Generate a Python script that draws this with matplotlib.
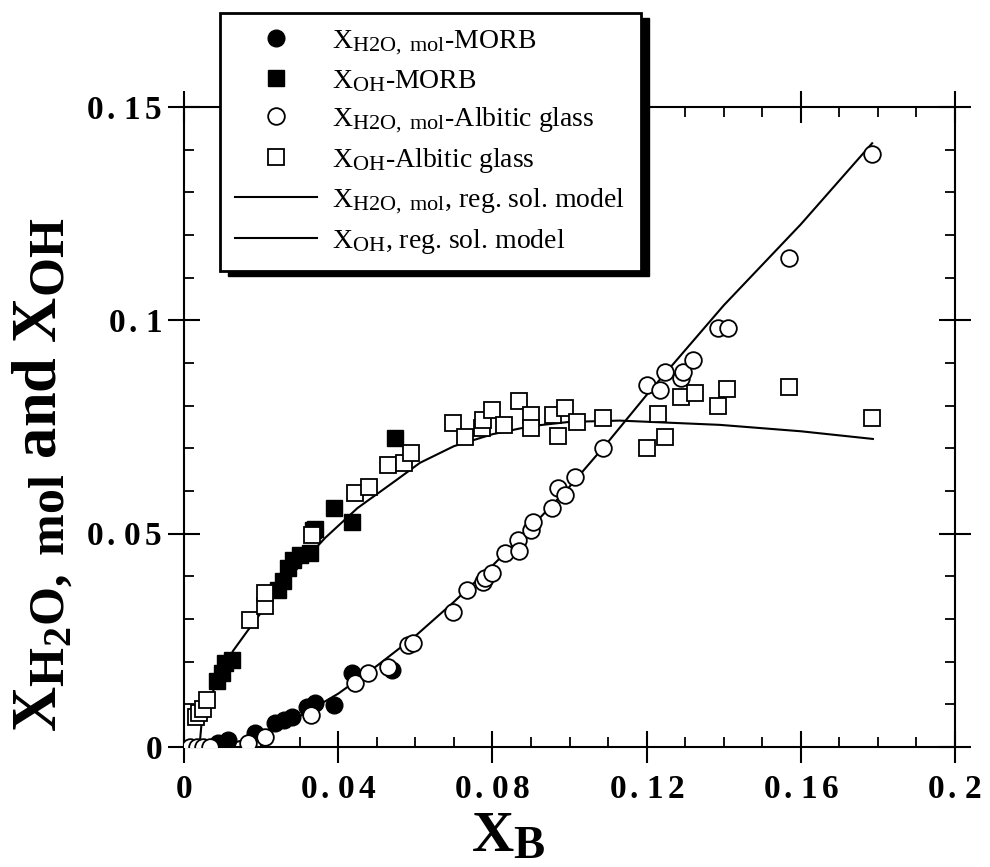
import matplotlib
matplotlib.use('Agg')
import matplotlib.pyplot as plt
from matplotlib.patches import Rectangle
from matplotlib.transforms import IdentityTransform
import matplotlib._mathtext as mathtext_internal

plt.rcParams['font.family'] = 'Liberation Serif'
plt.rcParams['mathtext.fontset'] = 'custom'
plt.rcParams['mathtext.rm'] = 'Liberation Serif'
plt.rcParams['mathtext.bf'] = 'Liberation Serif:bold'
plt.rcParams['mathtext.it'] = 'Liberation Serif:italic'
# subscripts in the original are a bit larger than matplotlib's default
mathtext_internal.SHRINK_FACTOR = 0.8

# X_H2O,mol - MORB (filled circles)
h2o_morb_x = [0.0088, 0.0099, 0.0114, 0.0184, 0.0236, 0.026, 0.028, 0.032, 0.034, 0.039, 0.0436, 0.054]
h2o_morb_y = [0.001, 0.0005, 0.0016, 0.0033, 0.0056, 0.0063, 0.007, 0.0094, 0.0103, 0.0098, 0.0173, 0.018]

# X_OH - MORB (filled squares)
oh_morb_x = [0.0086, 0.0099, 0.0106, 0.0125, 0.0244, 0.0257, 0.027, 0.0283, 0.030, 0.0327,
             0.0335, 0.034, 0.039, 0.0436, 0.0547]
oh_morb_y = [0.0155, 0.0173, 0.0197, 0.0204, 0.0368, 0.039, 0.042, 0.0438, 0.045, 0.0455,
             0.0509, 0.051, 0.056, 0.0527, 0.0724]

# X_H2O,mol - Albitic glass (open circles)
h2o_alb_x = [0.0016, 0.0034, 0.005, 0.0067, 0.0166, 0.021, 0.033, 0.0444, 0.0477, 0.053,
             0.058, 0.0594, 0.0698, 0.0734, 0.0776, 0.078, 0.080, 0.0833, 0.0866, 0.087,
             0.090, 0.0905, 0.0955, 0.097, 0.0988, 0.1014, 0.1087, 0.120, 0.1235, 0.1248,
             0.129, 0.1294, 0.132, 0.1385, 0.141, 0.157, 0.1785]
h2o_alb_y = [0.0, 0.0, 0.0, 0.0, 0.001, 0.0023, 0.0075, 0.015, 0.0173, 0.0188,
             0.024, 0.0244, 0.0316, 0.0368, 0.0387, 0.0396, 0.0408, 0.0455, 0.0485, 0.046,
             0.0509, 0.0527, 0.056, 0.0607, 0.059, 0.0633, 0.070, 0.0849, 0.0837, 0.0879,
             0.0865, 0.0879, 0.0907, 0.0982, 0.0982, 0.1146, 0.139]

# X_OH - Albitic glass (open squares)
oh_alb_x = [0.003, 0.004, 0.005, 0.006, 0.0171, 0.021, 0.021, 0.0332, 0.0444, 0.048,
            0.053, 0.057, 0.059, 0.0698, 0.0729, 0.0773, 0.0776, 0.080, 0.083, 0.087,
            0.090, 0.090, 0.0957, 0.097, 0.0988, 0.102, 0.1087, 0.120, 0.123, 0.1248,
            0.129, 0.1325, 0.1385, 0.1408, 0.157, 0.1785]
oh_alb_y = [0.007, 0.008, 0.009, 0.011, 0.0298, 0.033, 0.036, 0.0497, 0.0595, 0.061,
            0.066, 0.0666, 0.069, 0.076, 0.0727, 0.0748, 0.0766, 0.079, 0.0755, 0.081,
            0.0778, 0.0748, 0.0778, 0.073, 0.0795, 0.0762, 0.077, 0.070, 0.078, 0.0727,
            0.082, 0.083, 0.080, 0.084, 0.0844, 0.077]

# regular solution model curves
model_h2o_x = [0.0, 0.008, 0.015, 0.02, 0.03, 0.04, 0.05, 0.06, 0.07, 0.08, 0.09,
               0.10, 0.11, 0.12, 0.14, 0.16, 0.1785]
model_h2o_y = [0.0, 0.0, 0.0015, 0.003, 0.0072, 0.0125, 0.019, 0.026, 0.034, 0.0425, 0.0515,
               0.061, 0.0715, 0.0825, 0.1035, 0.1225, 0.1415]
model_oh_x = [0.004, 0.0045, 0.006, 0.009, 0.0127, 0.0163, 0.02, 0.03, 0.0366, 0.045, 0.055,
              0.0612, 0.07, 0.08, 0.09, 0.10, 0.113, 0.139, 0.16, 0.1787]
model_oh_y = [0.0, 0.005, 0.01, 0.016, 0.0225, 0.027, 0.0315, 0.0425, 0.049, 0.056, 0.0625,
              0.0666, 0.0705, 0.0733, 0.0752, 0.0762, 0.0765, 0.0755, 0.074, 0.0722]

xticks = [0, 0.04, 0.08, 0.12, 0.16, 0.2]
xticklabels = ['0', '0.04', '0.08', '0.12', '0.16', '0.2']
yticks = [0, 0.05, 0.1, 0.15]
yticklabels = ['0', '0.05', '0.1', '0.15']


def spaced(s):
    # original labels are set with wide letter spacing
    return r'$\mathbf{' + r'\,'.join(s) + '}$'


fig = plt.figure(figsize=(9.9, 8.67), dpi=100)
ax = fig.add_axes([184 / 990, 1 - 747 / 867, 771 / 990, 640 / 867])

l1, = ax.plot(model_h2o_x, model_h2o_y, color='k', lw=1.5, zorder=1)
l2, = ax.plot(model_oh_x, model_oh_y, color='k', lw=1.5, zorder=1)

ms = 12
p1, = ax.plot(h2o_morb_x, h2o_morb_y, 'o', ms=ms, mfc='k', mec='k', zorder=2)
p2, = ax.plot(oh_morb_x, oh_morb_y, 's', ms=ms - 0.5, mfc='k', mec='k', zorder=2)
p3, = ax.plot(h2o_alb_x, h2o_alb_y, 'o', ms=ms, mfc='white', mec='k', mew=1.3, zorder=3)
p4, = ax.plot(oh_alb_x, oh_alb_y, 's', ms=ms - 0.5, mfc='white', mec='k', mew=1.3, zorder=3)

ax.set_xlim(0, 0.2)
ax.set_ylim(0, 0.15)
ax.set_xticks(xticks)
ax.set_xticklabels([spaced(t) for t in xticklabels])
ax.set_yticks(yticks)
ax.set_yticklabels([spaced(t) for t in yticklabels])
ax.set_xticks([i * 0.01 for i in range(21)], minor=True)
ax.set_yticks([i * 0.01 for i in range(16)], minor=True)
ax.tick_params(which='major', direction='inout', length=23, width=1.5,
               top=True, right=True, labelsize=24, pad=4)
ax.tick_params(which='minor', direction='in', length=7, width=1.3, top=True, right=True)
ax.tick_params(axis='x', which='major', pad=8)
for s in ax.spines.values():
    s.set_linewidth(1.5)

ax.set_xlabel(r'$\mathbf{X_B}$', fontsize=42)
ax.xaxis.set_label_coords(0.42, -0.1)
ax.set_ylabel(r'$\mathbf{X_{H_2O,\ mol}\ and\ X_{OH}}$', fontsize=45)
ax.yaxis.set_label_coords(-0.142, 0.425)

labels = [r'$\mathrm{X_{H2O,\ mol}}$-MORB',
          r'$\mathrm{X_{OH}}$-MORB',
          r'$\mathrm{X_{H2O,\ mol}}$-Albitic glass',
          r'$\mathrm{X_{OH}}$-Albitic glass',
          r'$\mathrm{X_{H2O,\ mol}}$, reg. sol. model',
          r'$\mathrm{X_{OH}}$, reg. sol. model']
leg = fig.legend([p1, p2, p3, p4, l1, l2], labels, loc='upper left',
                 bbox_to_anchor=(220 / 990, 1 - 13 / 867), borderaxespad=0,
                 fontsize=20, handlelength=2.95, handletextpad=0.55, labelspacing=0.4,
                 fancybox=False, framealpha=1, edgecolor='k', borderpad=0.55)
leg.get_frame().set_linewidth(2)
leg.set_zorder(5)

fig.canvas.draw()
bb = leg.get_window_extent()
shadow = Rectangle((bb.x0 + 8, bb.y0 - 5), bb.width, bb.height, transform=IdentityTransform(),
                   facecolor='k', edgecolor='k', zorder=4)
fig.add_artist(shadow)

plt.savefig('out.png', dpi=100, facecolor='white')
